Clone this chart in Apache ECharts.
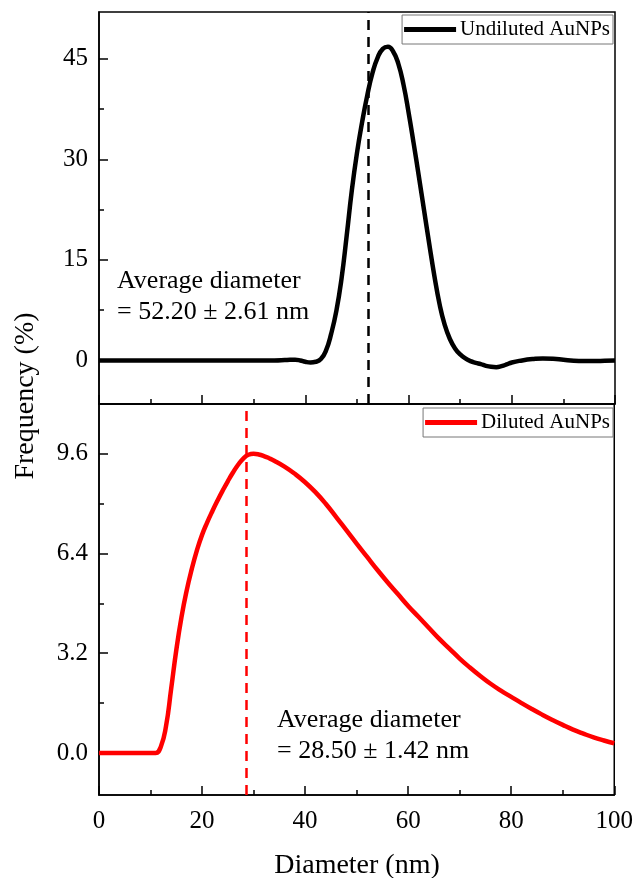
<!DOCTYPE html>
<html>
<head>
<meta charset="utf-8">
<script src="https://cdn.jsdelivr.net/npm/echarts@6/dist/echarts.min.js"></script>
<style>
  html, body { margin: 0; padding: 0; background: #fff; }
  #chart { width: 636px; height: 878px; }
</style>
</head>
<body>
<div id="chart"></div>
<script>
// diameter (nm) / frequency (%)
const undilutedX = [0, 10, 20, 30, 34, 36, 37, 38, 39, 40, 41, 42, 43, 44, 45, 46, 47, 48, 49, 50, 51, 52, 53, 54, 55, 56, 57, 58, 59, 60, 61, 62, 63, 64, 65, 66, 67, 68, 69, 70, 71, 72, 73, 74, 75, 76, 77, 78, 79, 80, 82, 84, 86, 88, 90, 92, 94, 96, 98, 100];
const undilutedY = [0, 0, 0, 0, 0, 0.05, 0.1, 0.1, 0, -0.2, -0.3, -0.2, 0.2, 1.5, 4.0, 7.4, 12.2, 18.6, 25.4, 31.0, 35.6, 39.6, 42.9, 45.2, 46.5, 46.8, 46.1, 44.3, 41.2, 37.0, 32.3, 27.4, 22.4, 17.4, 12.6, 8.4, 5.3, 3.2, 1.8, 0.9, 0.3, -0.1, -0.35, -0.55, -0.8, -0.95, -1.0, -0.85, -0.6, -0.3, 0.0, 0.2, 0.3, 0.25, 0.1, -0.05, -0.1, -0.1, -0.05, 0];

const dilutedX = [0, 5, 10, 11, 12, 13, 14, 15, 16, 17, 18, 19, 20, 21, 22, 23, 24, 25, 26, 27, 28, 29, 30, 31, 32, 33, 34, 36, 38, 40, 42, 44, 46, 48, 50, 52, 54, 56, 58, 60, 62, 64, 66, 68, 70, 72, 74, 76, 78, 80, 82, 84, 86, 88, 90, 92, 94, 96, 98, 100];
const dilutedY = [0, 0, 0, 0, 0.2, 0.85, 2.05, 3.3, 4.35, 5.2, 5.9, 6.5, 7.0, 7.4, 7.76, 8.1, 8.42, 8.72, 9.0, 9.25, 9.45, 9.57, 9.6, 9.58, 9.53, 9.46, 9.38, 9.19, 8.96, 8.69, 8.37, 8.0, 7.58, 7.15, 6.72, 6.3, 5.88, 5.48, 5.1, 4.72, 4.37, 4.02, 3.67, 3.35, 3.03, 2.74, 2.47, 2.22, 2.0, 1.8, 1.6, 1.41, 1.23, 1.06, 0.9, 0.75, 0.62, 0.5, 0.4, 0.31];

const avgUndiluted = 52.2;
const avgDiluted = 28.5;

const topMajor = [0, 15, 30, 45];
const topMinor = [7.5, 22.5, 37.5];
const botMajor = [0, 3.2, 6.4, 9.6];
const botMinor = [1.6, 4.8, 8.0];

const FONT = '"Liberation Serif", "Times New Roman", serif';

function pairs(xs, ys) {
  return xs.map((x, i) => [x, ys[i]]);
}

function yMain(grid, min, max, ticks, fmt) {
  return {
    type: 'value', gridIndex: grid, min: min, max: max, position: 'left',
    axisLine: { show: true, onZero: false, lineStyle: { color: '#000', width: 1.5 } },
    axisTick: { show: true, inside: true, length: 9, customValues: ticks, lineStyle: { color: '#000', width: 1.5 } },
    axisLabel: { show: true, customValues: ticks, formatter: fmt, color: '#000', fontFamily: FONT, fontSize: 25, margin: 11 },
    splitLine: { show: false }
  };
}
function yMinor(grid, min, max, ticks) {
  return {
    type: 'value', gridIndex: grid, min: min, max: max, position: 'left', offset: 0,
    axisLine: { show: false, onZero: false },
    axisTick: { show: true, inside: true, length: 5, customValues: ticks, lineStyle: { color: '#000', width: 1.5 } },
    axisLabel: { show: false },
    splitLine: { show: false }
  };
}
function xAx(grid, labels) {
  return {
    type: 'value', gridIndex: grid, min: 0, max: 100, interval: 20, position: 'bottom',
    axisLine: { show: true, onZero: false, lineStyle: { color: '#000', width: 1.5 } },
    axisTick: { show: true, inside: true, length: 9, lineStyle: { color: '#000', width: 1.5 } },
    minorTick: { show: true, splitNumber: 2, length: 5, lineStyle: { color: '#000', width: 1.5 } },
    axisLabel: { show: labels, color: '#000', fontFamily: FONT, fontSize: 25, margin: 14 },
    splitLine: { show: false }, minorSplitLine: { show: false }
  };
}

const chart = echarts.init(document.getElementById('chart'));

const option = {
  backgroundColor: '#fff',
  animation: false,
  grid: [
    { left: 99, right: 21, top: 12, height: 392, show: true, borderColor: '#000', borderWidth: 1.5, backgroundColor: 'transparent' },
    { left: 99, right: 21, top: 404, height: 391, show: true, borderColor: '#000', borderWidth: 1.5, backgroundColor: 'transparent' }
  ],
  xAxis: [xAx(0, false), xAx(1, true)],
  yAxis: [
    yMain(0, -6.5, 52, topMajor, v => String(v)),
    yMinor(0, -6.5, 52, topMinor),
    yMain(1, -1.35, 11.2, botMajor, v => v.toFixed(1)),
    yMinor(1, -1.35, 11.2, botMinor)
  ],
  legend: [
    {
      data: ['Undiluted AuNPs'], right: 23, top: 15,
      icon: 'rect', itemWidth: 52, itemHeight: 5, itemGap: 4,
      borderColor: '#777', borderWidth: 1, borderRadius: 0, padding: [4, 3, 4, 2],
      textStyle: { color: '#000', fontFamily: FONT, fontSize: 21, padding: [0, 0, 0, -1] }
    },
    {
      data: ['Diluted AuNPs'], right: 23, top: 408,
      icon: 'rect', itemWidth: 52, itemHeight: 5, itemGap: 4,
      borderColor: '#777', borderWidth: 1, borderRadius: 0, padding: [4, 3, 4, 2],
      textStyle: { color: '#000', fontFamily: FONT, fontSize: 21, padding: [0, 0, 0, -1] }
    }
  ],
  series: [
    {
      name: 'Undiluted AuNPs', type: 'line', xAxisIndex: 0, yAxisIndex: 0,
      data: pairs(undilutedX, undilutedY), smooth: 0.5, symbol: 'none',
      lineStyle: { color: '#000', width: 4.5 }, itemStyle: { color: '#000' },
      markLine: {
        silent: true, symbol: 'none', label: { show: false },
        lineStyle: { color: '#000', type: [10, 7], width: 2.5 },
        data: [{ xAxis: avgUndiluted }]
      }
    },
    {
      name: 'Diluted AuNPs', type: 'line', xAxisIndex: 1, yAxisIndex: 2,
      data: pairs(dilutedX, dilutedY), smooth: 0.5, symbol: 'none',
      lineStyle: { color: '#ff0000', width: 4.5 }, itemStyle: { color: '#ff0000' },
      markLine: {
        silent: true, symbol: 'none', label: { show: false },
        lineStyle: { color: '#ff0000', type: [10, 7], width: 2.5 },
        data: [{ xAxis: avgDiluted }]
      }
    }
  ],
  graphic: [
    {
      type: 'text', left: 117, top: 266,
      style: { text: 'Average diameter\n= 52.20 ± 2.61 nm', font: '26px ' + FONT, fill: '#000', lineHeight: 31 }
    },
    {
      type: 'text', left: 277, top: 705,
      style: { text: 'Average diameter\n= 28.50 ± 1.42 nm', font: '26px ' + FONT, fill: '#000', lineHeight: 31 }
    },
    {
      type: 'text', x: 357, y: 866,
      style: { text: 'Diameter (nm)', font: '28px ' + FONT, fill: '#000', align: 'center', verticalAlign: 'middle' }
    },
    {
      type: 'text', x: 26, y: 396, rotation: Math.PI / 2,
      style: { text: 'Frequency (%)', font: '28px ' + FONT, fill: '#000', align: 'center', verticalAlign: 'middle' }
    }
  ]
};

chart.setOption(option);
</script>
</body>
</html>
